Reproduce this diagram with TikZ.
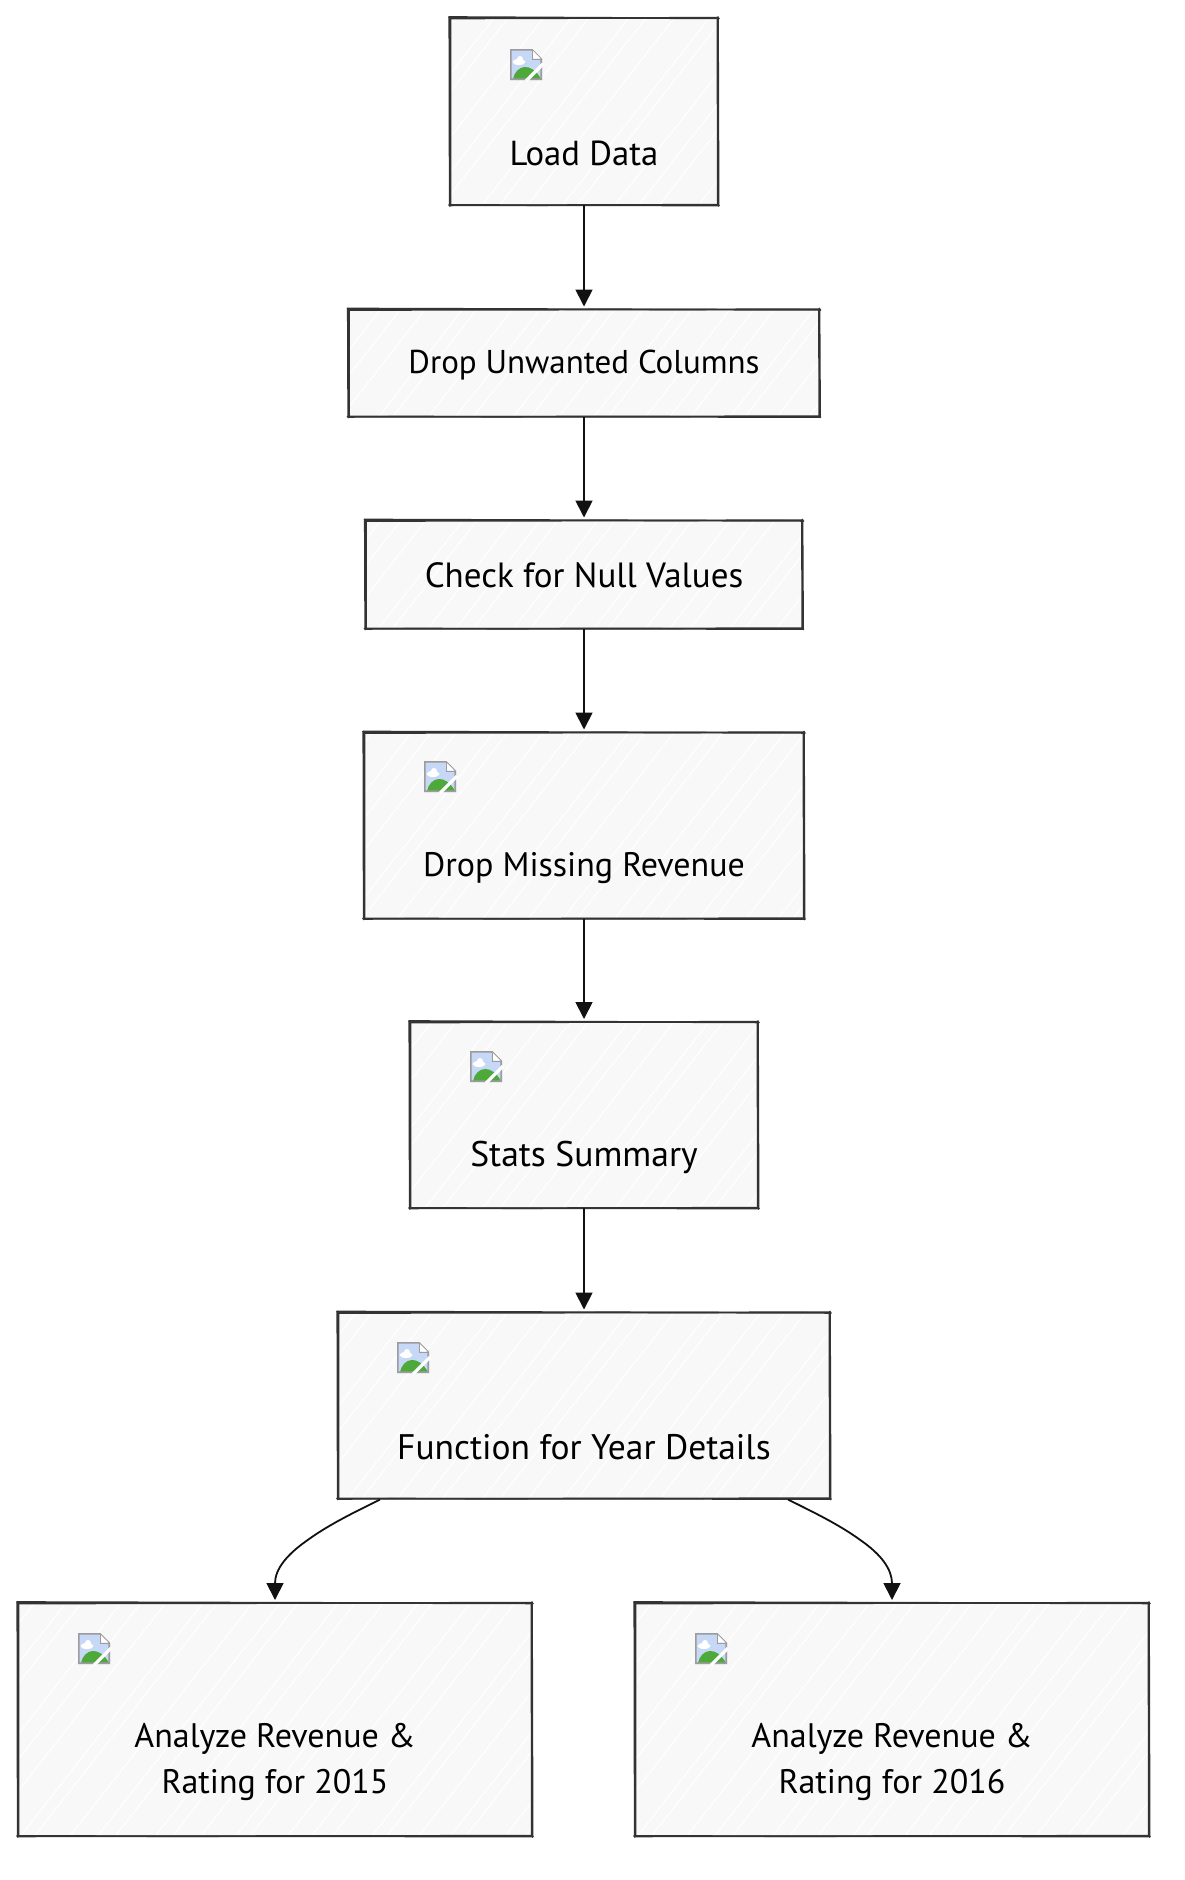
\documentclass[tikz,border=0pt]{standalone}
\usepackage{fontspec}
\setmainfont{PT Sans}
\usetikzlibrary{arrows.meta,calc}
\definecolor{boxfill}{HTML}{F8F8F8}
\definecolor{ink}{HTML}{333333}
\definecolor{arrowink}{HTML}{111111}
\definecolor{iconsky}{HTML}{C6D8F5}
\definecolor{iconedge}{HTML}{9C9C9C}
\definecolor{icongreen}{HTML}{4DA93A}
\tikzset{
  box/.style={rectangle,inner sep=0pt,outer sep=0pt,fill=boxfill,
    minimum width=#1,
    path picture={
      \foreach \i in {-22,...,22}{
        \pgfmathsetmacro{\hx}{\i*27+7*sin(\i*137)}
        \draw[white,line width=1.1pt] (\hx,300) -- (\hx+470,-300);
      }
    }},
  boxh/.style={minimum height=#1},
  rough/.style={draw=ink,line width=1.7pt,line cap=round},
  label/.style={inner sep=0pt,outer sep=0pt,text=black,font=\fontsize{#1}{46}\selectfont,align=center},
  link/.style={draw=arrowink,line width=1.8pt,-{Triangle[length=17pt,width=17pt]}},
}
\newcommand{\sketchborder}[1]{
  \draw[rough] ($(#1.north west)+(-1,-1)$) -- ($(#1.north east)+(1,0.4)$);
  \draw[rough] ($(#1.north west)+(0,0.5)$) -- ($(#1.north east)+(0,-0.3)$);
  \draw[rough] ($(#1.north east)+(0,-1)$) -- ($(#1.south east)+(0.6,1)$);
  \draw[rough] ($(#1.north east)+(-0.5,0)$) -- ($(#1.south east)+(-0.3,0)$);
  \draw[rough] ($(#1.south east)+(1,0.5)$) -- ($(#1.south west)+(-1,0)$);
  \draw[rough] ($(#1.south east)+(0,-0.3)$) -- ($(#1.south west)+(0,0.4)$);
  \draw[rough] ($(#1.south west)+(-0.3,1)$) -- ($(#1.north west)+(-0.7,-1)$);
  \draw[rough] ($(#1.south west)+(0.4,0)$) -- ($(#1.north west)+(0.5,0)$);
}
\newcommand{\brokenicon}[2]{
  \begin{scope}[shift={(#1,#2)}]
    \fill[iconsky] (0,0) -- (22,0) -- (32,10) -- (32,31) -- (0,31) -- cycle;
    \fill[white] (9,13) ellipse (6.5 and 3);
    \fill[white] (10,10) circle (3);
    \fill[icongreen] (3,30) .. controls (6,16) and (21,12) .. (31,30) -- cycle;
    \draw[iconedge,line width=1.6pt] (0.8,0.8) -- (22,0.8) -- (31.2,10) -- (31.2,30.2) -- (0.8,30.2) -- cycle;
    \draw[white,line width=3.2pt] (16,32) -- (33,15);
    \fill[white] (22.5,1.5) -- (22.5,9.5) -- (30.5,9.5) -- cycle;
    \draw[iconedge,line width=1pt] (22,0.8) -- (22,10) -- (31.2,10);
  \end{scope}
}
\begin{document}
\begin{tikzpicture}[x=1pt,y=-1pt]
\useasboundingbox (0,0) rectangle (1184,1880);
% boxes
\node[box=268pt,boxh=187pt] (b1) at (584,111.5) {};
\node[box=471pt,boxh=107pt] (b2) at (584,363) {};
\node[box=437pt,boxh=108pt] (b3) at (584,574.5) {};
\node[box=440pt,boxh=186pt] (b4) at (584,825.5) {};
\node[box=348pt,boxh=186pt] (b5) at (584,1115) {};
\node[box=492pt,boxh=186pt] (b6) at (584,1405.5) {};
\node[box=514pt,boxh=233pt] (b7) at (275,1719.5) {};
\node[box=514pt,boxh=233pt] (b8) at (892,1719.5) {};
\foreach \n in {b1,b2,b3,b4,b5,b6,b7,b8}{\sketchborder{\n}}
% missing-image icons
\brokenicon{510}{49}
\brokenicon{424}{761}
\brokenicon{470}{1051}
\brokenicon{397}{1342}
\brokenicon{78}{1633}
\brokenicon{695}{1633}
% labels
\node[label=34.7] (t1) at (584,153) {Load Data};
\node[label=33] (t2) at (584,365) {Drop Unwanted Columns};
\node[label=35] (t3) at (584,575) {Check for Null Values};
\node[label=34] (t4) at (584,868) {Drop Missing Revenue};
\node[label=35.6] (t5) at (584,1157) {Stats Summary};
\node[label=35.5] (t6) at (584,1447) {Function for Year Details};
\node[label=34] (t7) at (275,1762) {Analyze Revenue \&\\Rating for 2015};
\node[label=34] (t8) at (892,1762) {Analyze Revenue \&\\Rating for 2016};
% connectors
\draw[link,shorten >=3pt] (b1) -- (b2);
\draw[link,shorten >=3pt] (b2) -- (b3);
\draw[link,shorten >=3pt] (b3) -- (b4);
\draw[link,shorten >=3pt] (b4) -- (b5);
\draw[link,shorten >=3pt] (b5) -- (b6);
\draw[link,shorten >=3pt] ($(b6.south west)+(42,1)$) .. controls +(-28,14) and +(22,-16) .. ++(-73,41) .. controls +(-20,14) and +(0,-34) .. (b7.north);
\draw[link,shorten >=3pt] ($(b6.south east)+(-42,1)$) .. controls +(28,14) and +(-22,-16) .. ++(73,41) .. controls +(20,14) and +(0,-34) .. (b8.north);
\end{tikzpicture}
\end{document}
